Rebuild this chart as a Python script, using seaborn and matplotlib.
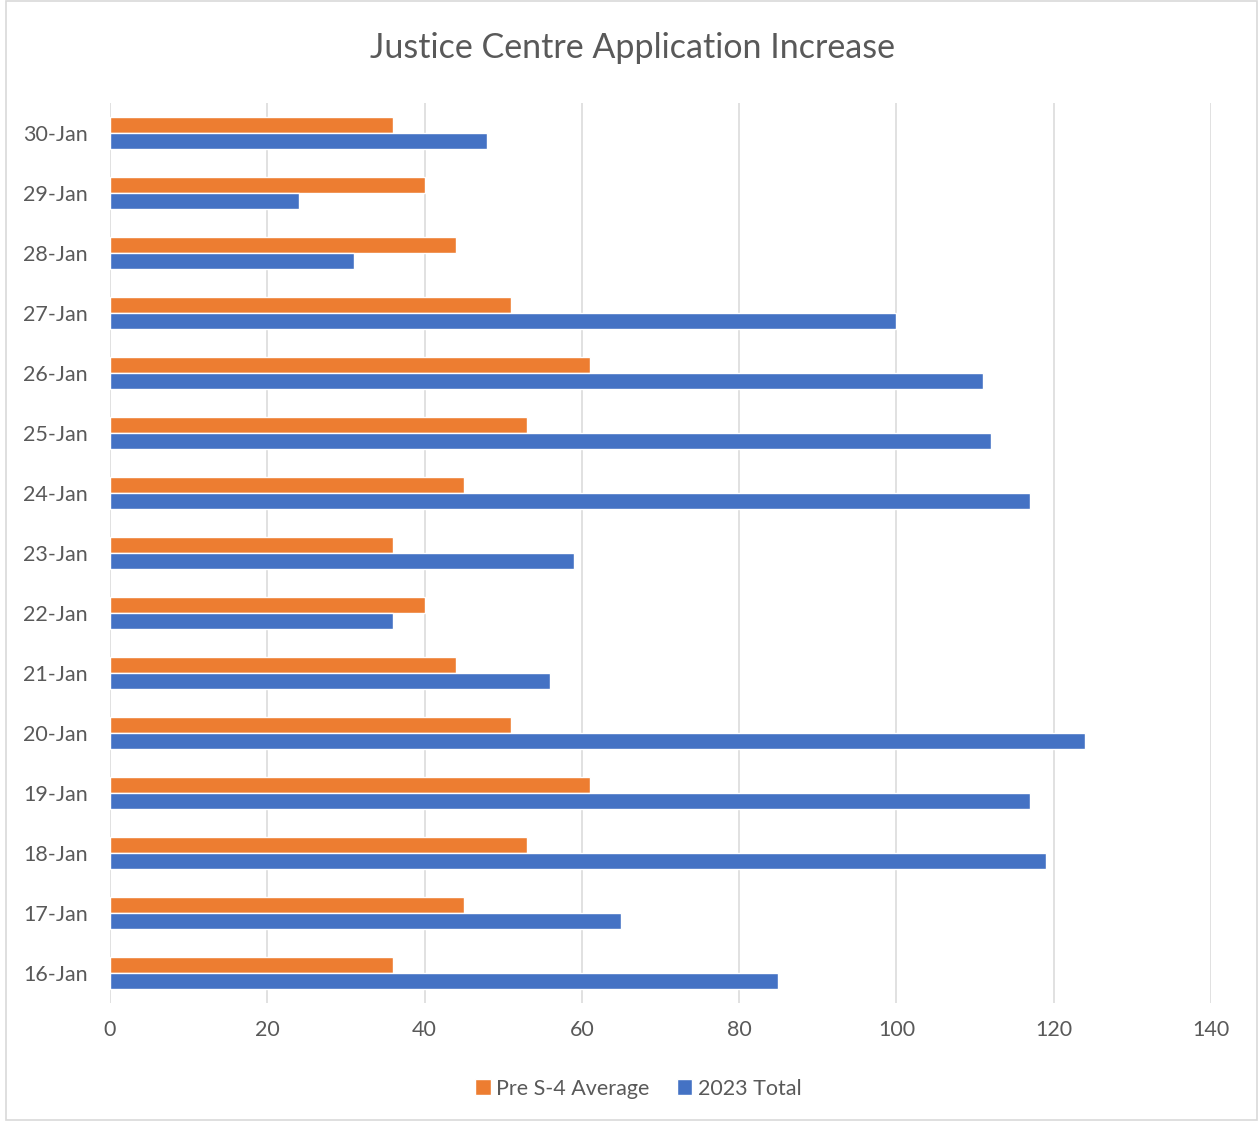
import matplotlib.pyplot as plt
import pandas as pd
import seaborn as sns
from matplotlib.patches import Rectangle

dates = ["30-Jan", "29-Jan", "28-Jan", "27-Jan", "26-Jan", "25-Jan", "24-Jan", "23-Jan",
         "22-Jan", "21-Jan", "20-Jan", "19-Jan", "18-Jan", "17-Jan", "16-Jan"]
pre_s4_average = [36, 40, 44, 51, 61, 53, 45, 36, 40, 44, 51, 61, 53, 45, 36]
total_2023 = [48, 24, 31, 100, 111, 112, 117, 59, 36, 56, 124, 117, 119, 65, 85]
series = ["Pre S-4 Average", "2023 Total"]
colors = ["#ED7D31", "#4472C4"]

df = pd.DataFrame({
    "Date": dates * 2,
    "Series": [series[0]] * len(dates) + [series[1]] * len(dates),
    "Value": pre_s4_average + total_2023,
})

sns.set_style("white")
plt.rcParams["font.family"] = ["Lato", "DejaVu Sans"]

fig = plt.figure(figsize=(12.58, 11.22), dpi=100)
ax = fig.add_axes([0.0874, 0.106, 0.8752, 0.802])

sns.barplot(data=df, y="Date", x="Value", hue="Series", order=dates, hue_order=series,
            palette=colors, saturation=1, orient="h", width=0.54, ax=ax, legend=True)

ax.set_xlim(0, 140)
ax.set_ylim(14.5, -0.5)
ax.set_xticks(range(0, 141, 20))
ax.xaxis.grid(True, color="#D9D9D9", linewidth=1.1)
ax.set_axisbelow(True)
for s in ax.spines.values():
    s.set_visible(False)
ax.set_xlabel("")
ax.set_ylabel("")
ax.tick_params(axis="both", length=0, labelsize=15.5, labelcolor="#595959")
ax.tick_params(axis="x", pad=12)
ax.tick_params(axis="y", pad=16)

fig.text(0.503, 0.957, "Justice Centre Application Increase", fontsize=24.5,
         color="#595959", ha="center", va="center")

handles, labels = ax.get_legend_handles_labels()
ax.legend(handles, labels, loc="center", bbox_to_anchor=(0.48, -0.095), ncol=2, frameon=False,
          fontsize=15.5, labelcolor="#595959", handlelength=0.7, handleheight=0.7,
          handletextpad=0.25, columnspacing=1.3)

fig.patches.append(Rectangle((0.005, 0.002), 0.994, 0.997, transform=fig.transFigure,
                             fill=False, edgecolor="#D9D9D9", linewidth=1.2))

fig.savefig("out.png", dpi=100)
